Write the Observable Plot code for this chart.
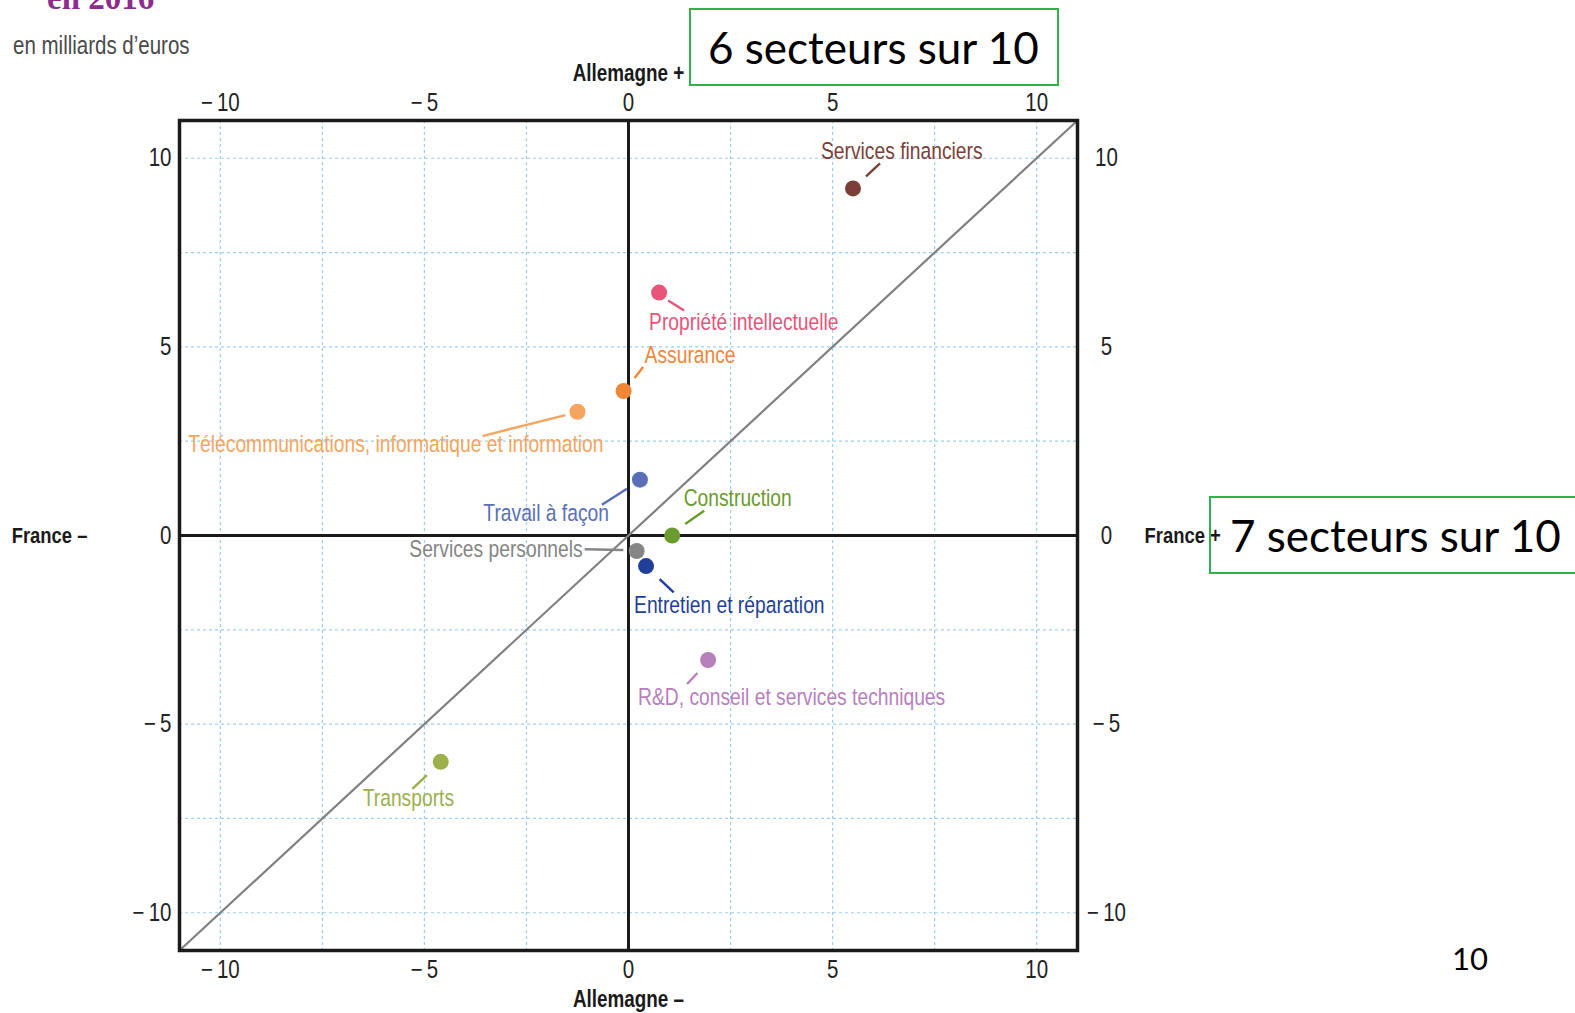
<!DOCTYPE html>
<html><head><meta charset="utf-8">
<script src="https://cdn.jsdelivr.net/npm/d3@7"></script>
<script src="https://cdn.jsdelivr.net/npm/@observablehq/plot@0.6"></script>
<style>
html,body{margin:0;padding:0;background:#fff;}
body{width:1575px;height:1013px;overflow:hidden;position:relative;}
#chart{position:absolute;left:0;top:0;}
.ov{position:absolute;white-space:nowrap;}
#title{left:47px;top:-18px;font:bold 33px/33px "Liberation Serif",serif;color:#8b2c8e;}
#subtitle{left:13px;top:31px;font:25px/28px "Liberation Sans",Arial,sans-serif;color:#4a4a4a;transform:scaleX(0.82);transform-origin:0 0;}
.box{border:2px solid #2fb24c;box-sizing:border-box;height:78px;font:44px/74px Lato,"Open Sans",sans-serif;color:#000;text-align:left;}
#box1{left:689px;top:8px;width:370px;padding-left:17px;}
#box2{left:1209px;top:496px;width:380px;padding-left:19px;}
#page{left:1452px;top:938px;font:31px/40px Lato,"Open Sans",sans-serif;color:#000;}
</style></head><body>
<div id="chart"></div>
<div class="ov" id="title">en 2016</div>
<div class="ov" id="subtitle">en milliards d’euros</div>
<div class="ov box" id="box1">6 secteurs sur 10</div>
<div class="ov box" id="box2">7 secteurs sur 10</div>
<div class="ov" id="page">10</div>
<script>
// ---- data ----
const secteurs = ["Services financiers", "Propriété intellectuelle", "Assurance",
  "Télécommunications, informatique et information", "Travail à façon", "Construction",
  "Services personnels", "Entretien et réparation", "R&D, conseil et services techniques", "Transports"];
const france    = [5.5, 0.75, -0.12, -1.25, 0.28, 1.07, 0.2, 0.43, 1.95, -4.6];
const allemagne = [9.2, 6.44, 3.83, 3.28, 1.48, 0.0, -0.41, -0.81, -3.3, -6.0];
const tickValues = [-10, -5, 0, 5, 10];
const gridValues = [-10, -7.5, -5, -2.5, 2.5, 5, 7.5, 10];
const domain = [-11, 11];
const axisTitles = {xNeg: "France –", xPos: "France +", yPos: "Allemagne +", yNeg: "Allemagne –"};

// ---- styles (colours, label placement in pixels) ----
const colors = ["#7b3f38", "#e8557a", "#f08636", "#f5a560", "#5a6fb8", "#6b9a30",
  "#858585", "#1f3f98", "#b87fbd", "#9bb04a"];
// [anchor, dx, dy, leader x1, y1, x2, y2] offsets in px from dot centre
const labelStyle = [
  ["start", -32, -37, 13, -12, 27, -25],
  ["start", -10, 29.5, 9, 8, 25, 18],
  ["start", 21, -35.5, 11, -13, 19.5, -24],
  ["end", 26, 33, -12, 3.3, -95, 24.3],
  ["end", -31, 34, -13, 9, -38, 25],
  ["start", 11.5, -37.5, 13, -11.4, 32, -24.7],
  ["end", -54, -1.5, -13.3, -1, -52, -1.7],
  ["start", -12, 39.4, 13.6, 13, 27.6, 26.4],
  ["start", -70, 37.7, -10.7, 13, -21, 24],
  ["start", -78, 37, -13.8, 13.3, -28.4, 27]
];

const W = 1575, H = 1013, ML = 179, MR = 498, MT = 120, MB = 63;
const kx = (W - ML - MR) / (domain[1] - domain[0]);
const ky = (H - MT - MB) / (domain[1] - domain[0]);

const data = secteurs.map((s, i) => ({
  name: s, x: france[i], y: allemagne[i], color: colors[i],
  anchor: labelStyle[i][0],
  lx: france[i] + labelStyle[i][1] / kx, ly: allemagne[i] - labelStyle[i][2] / ky,
  x1: france[i] + labelStyle[i][3] / kx, y1: allemagne[i] - labelStyle[i][4] / ky,
  x2: france[i] + labelStyle[i][5] / kx, y2: allemagne[i] - labelStyle[i][6] / ky
}));

const fmt = d => d < 0 ? "\u2212\u2009" + (-d) : String(d);
const font = "'Liberation Sans',Arial,sans-serif";
const diag = domain.map(v => ({v}));

const chart = Plot.plot({
  width: W, height: H,
  marginLeft: ML, marginRight: MR, marginTop: MT, marginBottom: MB,
  x: {domain, label: null},
  y: {domain, label: null},
  color: {type: "identity"},
  style: {fontFamily: font, fontSize: "24px", color: "#222", background: "transparent", overflow: "visible"},
  marks: [
    Plot.gridX(gridValues, {stroke: "#9ccff0", strokeOpacity: 1, strokeWidth: 1.2, strokeDasharray: "3,3"}),
    Plot.gridY(gridValues, {stroke: "#9ccff0", strokeOpacity: 1, strokeWidth: 1.2, strokeDasharray: "3,3"}),
    Plot.ruleX([0], {stroke: "#1a1a1a", strokeWidth: 3}),
    Plot.ruleY([0], {stroke: "#1a1a1a", strokeWidth: 3}),
    Plot.line(diag, {x: "v", y: "v", stroke: "#808080", strokeWidth: 2.2}),
    Plot.link(data, {x1: "x1", y1: "y1", x2: "x2", y2: "y2", stroke: "color", strokeWidth: 2.4}),
    Plot.dot(data, {x: "x", y: "y", r: 8, fill: "color"}),
    Plot.text(data.filter(d => d.anchor === "start"), {x: "lx", y: "ly", text: "name", fill: "color", textAnchor: "start", fontSize: 23.5}),
    Plot.text(data.filter(d => d.anchor === "end"), {x: "lx", y: "ly", text: "name", fill: "color", textAnchor: "end", fontSize: 23.5}),
    Plot.axisX({anchor: "top", ticks: tickValues, tickSize: 0, tickPadding: 10, tickFormat: fmt, fontSize: 25, fill: "#222"}),
    Plot.axisX({anchor: "bottom", ticks: tickValues, tickSize: 0, tickPadding: 10, tickFormat: fmt, fontSize: 25, fill: "#222"}),
    Plot.axisY({anchor: "left", ticks: tickValues, tickSize: 0, tickPadding: 8, tickFormat: fmt, fontSize: 25, fill: "#222"}),
    Plot.axisY({anchor: "right", ticks: tickValues, tickSize: 0, tickPadding: 29, textAnchor: "middle", tickFormat: fmt, fontSize: 25, fill: "#222"}),
    Plot.text([{t: axisTitles.xNeg, y: 0}], {text: "t", y: "y", frameAnchor: "left", textAnchor: "end", dx: -92, fontSize: 22.5, fontWeight: "bold", fill: "#1a1a1a"}),
    Plot.text([{t: axisTitles.xPos, y: 0}], {text: "t", y: "y", frameAnchor: "right", textAnchor: "start", dx: 67, fontSize: 22.5, fontWeight: "bold", fill: "#1a1a1a"}),
    Plot.text([{t: axisTitles.yPos, x: 0}], {text: "t", x: "x", frameAnchor: "top", dy: -56, fontSize: 23, fontWeight: "bold", fill: "#1a1a1a"}),
    Plot.text([{t: axisTitles.yNeg, x: 0}], {text: "t", x: "x", frameAnchor: "bottom", dy: 56, fontSize: 23, fontWeight: "bold", fill: "#1a1a1a"}),
    Plot.frame({stroke: "#1a1a1a", strokeWidth: 3.5})
  ]
});
// condense every text horizontally around its anchor (narrow sans look)
chart.querySelectorAll("text").forEach(el => {
  const x = +(el.getAttribute("x") || 0);
  const t = el.getAttribute("transform") || "";
  el.setAttribute("transform", `${t} translate(${x},0) scale(0.82,1) translate(${-x},0)`);
});
document.getElementById("chart").appendChild(chart);
</script>
</body></html>
